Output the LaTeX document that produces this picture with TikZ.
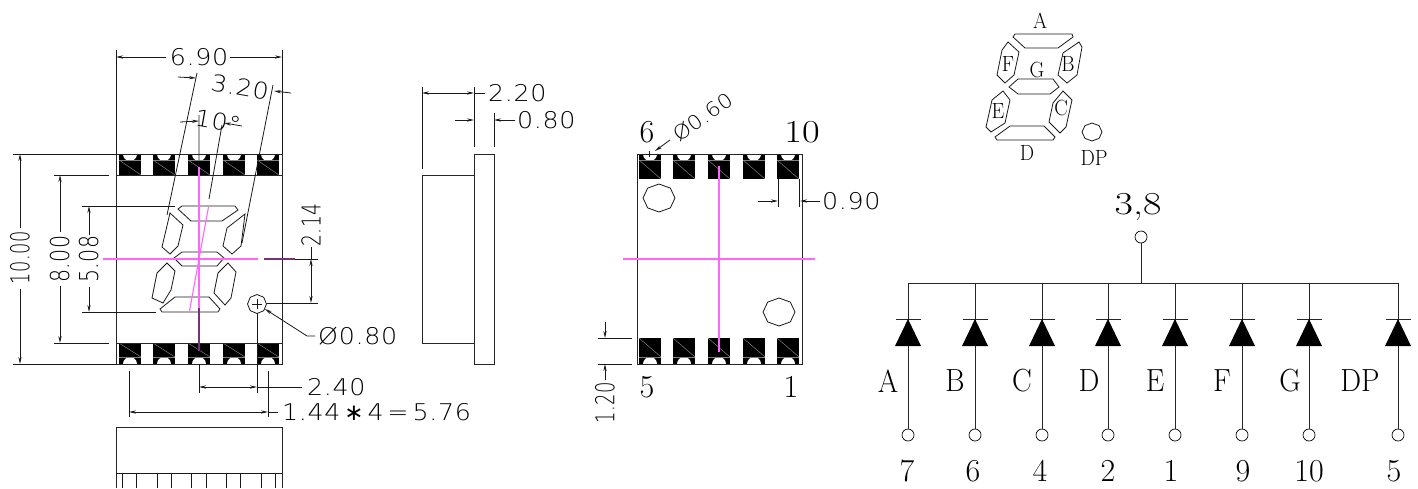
\documentclass[tikz,border=0pt]{standalone}
\usepackage{fontspec}
\usetikzlibrary{arrows.meta}
\newfontfamily\cadfont[FakeStretch=1.1, LetterSpace=3]{DejaVu Sans ExtraLight}
\newfontfamily\segfont[FakeStretch=0.92]{Latin Modern Roman}
\newfontfamily\pinfont{Latin Modern Roman}
\definecolor{centrepink}{RGB}{255,102,255}
\definecolor{centredim}{RGB}{120,50,120}
\tikzset{
  outline/.style={line width=0.9pt, black!85},
  dimline/.style={line width=0.8pt, black!90},
  dimtip/.style={dimline, -{Stealth[length=7pt,width=3.2pt]}},
  centre/.style={line width=1.1pt, centrepink},
  centredark/.style={line width=1.1pt, centredim},
  dimtext/.style={font=\fontsize{23}{23}\cadfont, inner sep=0},
  vdimtext/.style={font=\fontsize{26}{26}\cadfont, inner sep=0, rotate=90},
  pintext/.style={font=\fontsize{32}{32}\pinfont, inner sep=0},
  seglabel/.style={font=\fontsize{32}{32}\segfont, inner sep=0},
  smalllabel/.style={font=\fontsize{22}{22}\segfont, inner sep=0},
  pinhole/.style={draw, circle, line width=0.7pt, minimum size=12pt, inner sep=0, fill=white},
}
\newcommand{\padrow}[6]{
  \foreach \padx in {#6} {
    \fill[black] (\padx,#1) rectangle (\padx+22,#2);
    \fill[white] (\padx+11,#1) circle[radius=7];
    \draw[gray, line width=0.5pt] (\padx,#3) -- (\padx+22,#4);
    \draw[gray, line width=0.5pt] (\padx,#5) -- (\padx+22,#5);
  }
}
\newcommand{\octagon}[4]{
  \draw[dimline] plot[samples at={0,45,...,315}] ({#1+#3*cos(\x)},{#2+#4*sin(\x)}) -- cycle;
}
\newcommand{\narrow}[2]{\scalebox{#1}[1]{#2}}
\begin{document}
\begin{tikzpicture}[x=1pt, y=-1pt]
  \useasboundingbox (0,0) rectangle (1418,488);

  % front view
  \padrow{154}{175}{160}{175}{160}{119,153,188,223,257}
  \padrow{364}{343}{343}{357}{357}{119,153,188,223,257}
  \draw[outline] (116,154) rectangle (282,364);
  \draw[outline] (116,175) -- (282,175) (116,343) -- (282,343);
  \foreach \segpts in {
    {(178,209) -- (182,206) -- (235,206) -- (238,210) -- (222,221) -- (191,221)},
    {(170,213) -- (183,225) -- (178,246) -- (170,254) -- (162,247)},
    {(245,214) -- (241,246) -- (232,254) -- (223,246) -- (227,228)},
    {(174,258) -- (182,252) -- (217,252) -- (224,258) -- (217,266) -- (182,266)},
    {(167,263) -- (175,271) -- (171,290) -- (163,303) -- (152,298) -- (157,273)},
    {(228,263) -- (236,272) -- (231,298) -- (225,305) -- (214,293) -- (218,273)},
    {(175,297) -- (209,297) -- (220,309) -- (218,312) -- (162,312) -- (160,309)}
  } {
    \draw[dimline] \segpts -- cycle;
  }
  \octagon{257}{304}{9.5}{9.5}
  \draw[dimline] (252,304) -- (262,304) (257,299) -- (257,309);

  % centre lines
  \draw[centre] (199,167) -- (199,308);
  \draw[centredark] (199,308) -- (199,351);
  \draw[centre] (103,259) -- (258,259);
  \draw[centredark] (264,259) -- (295,259);
  \draw[dimline] (295,259) -- (318,259);
  \draw[centre] (208.5,207) -- (189.5,311);

  % 6.90 and the angled sizes
  \draw[dimline] (116,50) -- (116,154) (282,50) -- (282,154);
  \draw[dimtip] (166,57) -- (116,57);
  \draw[dimtip] (230,57) -- (282,57);
  \node[dimtext] (dimwidth) at (199,57) {6.90};
  \draw[dimline] (197,73) -- (167,215) (273,85) -- (242,243);
  \draw[dimtip] (178,77) -- (196,78);
  \draw[dimtip] (291,93) -- (274,91);
  \node[dimtext, rotate=-10] (dimsegw) at (240,87) {3.20};
  \draw[dimline] (199,115) -- (199,160) (222,125) -- (209,199);
  \draw[dimtip] (180,122) -- (199,121);
  \draw[dimtip] (242,126) -- (224,123);
  \node[dimtext, rotate=-10] (dimangle) at (218,121) {10°};

  % vertical sizes
  \draw[dimline] (13,154) -- (116,154) (13,364) -- (116,364);
  \draw[dimtip] (20,228) -- (20,154);
  \draw[dimtip] (20,289) -- (20,364);
  \node[vdimtext] (dimheight) at (20,258) {\narrow{.62}{10.00}};
  \draw[dimline] (54,175) -- (109,175) (54,343) -- (109,343);
  \draw[dimtip] (60,232) -- (60,175);
  \draw[dimtip] (60,286) -- (60,343);
  \node[vdimtext] (dimbody) at (60,259) {\narrow{.72}{8.00}};
  \draw[dimline] (82,206) -- (175,206) (82,312) -- (156,312);
  \draw[dimtip] (89,235) -- (89,206);
  \draw[dimtip] (89,287) -- (89,312);
  \node[vdimtext] (dimdigit) at (89,259) {\narrow{.72}{5.08}};
  \draw[dimline] (267,303) -- (318,303);
  \draw[dimline] (311,247) -- (311,259);
  \draw[dimtip] (311,280) -- (311,259);
  \draw[dimtip] (311,280) -- (311,303);
  \node[vdimtext] (dimdp) at (311,225) {\narrow{.66}{2.14}};

  % dot size and pin sizes
  \draw[dimtip] (315,336) -- (307,336) -- (265,309);
  \node[dimtext, anchor=west] (dimdot) at (318,336) {Ø0.80};
  \draw[dimline] (199,364) -- (199,393) (257,313) -- (257,393);
  \draw[dimtip] (228,387) -- (199,387);
  \draw[dimtip] (228,387) -- (257,387);
  \draw[dimline] (257,387) -- (302,387);
  \node[dimtext, anchor=west] (dimoffset) at (307,387) {2.40};
  \draw[dimline] (129,371) -- (129,417) (268,371) -- (268,417);
  \draw[dimtip] (200,412) -- (129,412);
  \draw[dimtip] (200,412) -- (268,412);
  \draw[dimline] (268,412) -- (278,412);
  \node[dimtext, anchor=west] (dimpitch) at (282,412) {1.44\,{\fontspec{DejaVu Sans}\char"2217}\,4\,=\,5.76};

  % lower view
  \draw[outline] (116,488) -- (116,427) -- (282,427) -- (282,488);
  \draw[dimline] (116,473) -- (282,473);
  \foreach \tickx in {122.7,136.7,157,171.7,191.7,206.7,226.7,240.7,261,275.7} {
    \draw[dimline] (\tickx,473) -- (\tickx,488);
  }

  % side view
  \draw[outline] (474,154) rectangle (494,364);
  \draw[outline] (474,175) -- (422,175) -- (422,343) -- (474,343);
  \draw[dimline] (422,87) -- (422,169) (474,87) -- (474,147) (494,113) -- (494,147);
  \draw[dimtip] (450,93) -- (422,93);
  \draw[dimtip] (450,93) -- (474,93);
  \draw[dimline] (474,93) -- (485,93);
  \node[dimtext, anchor=west] (dimdepth) at (488,93) {2.20};
  \draw[dimtip] (455,120) -- (474,120);
  \draw[dimtip] (515,120) -- (494,120);
  \node[dimtext, anchor=west] (dimplate) at (517,120) {0.80};

  % rear view
  \padrow{154}{179}{160}{179}{160}{639,673,708,743,777}
  \padrow{364}{338}{338}{357}{357}{639,673,708,743,777}
  \draw[outline] (637,154) rectangle (802,364);
  \draw[centre] (719,166) -- (719,352);
  \draw[centre] (623,259) -- (815,259);
  \octagon{659}{198}{16}{14}
  \octagon{779}{312}{16}{14}
  \node[pintext] (rearsix) at (647,132) {6};
  \node[pintext] (rearten) at (802,132) {\narrow{1.2}{10}};
  \node[pintext] (rearfive) at (647,387) {5};
  \node[pintext] (rearone) at (791,387) {1};
  \draw[dimline] (646,154) -- (652,154) (649,151) -- (649,157);
  \draw[dimtip] (670,140) -- (655,151);
  \node[dimtext, rotate=35, font=\fontsize{20}{20}\cadfont] (dimpinhole) at (703,117) {Ø0.60};
  \draw[dimline] (778,179) -- (778,207) (799,179) -- (799,207);
  \draw[dimtip] (758,201) -- (778,201);
  \draw[dimtip] (820,201) -- (800,201);
  \node[dimtext, anchor=west] (dimpad) at (822,201) {0.90};
  \draw[dimline] (598,338) -- (632,338) (598,364) -- (632,364);
  \draw[dimtip] (605,322) -- (605,338);
  \draw[dimtip] (605,380) -- (605,364);
  \node[vdimtext] (dimpadlen) at (605,403) {\narrow{.63}{1.20}};

  % segment key
  \foreach \segpts in {
    {(1013,37) -- (1015,34) -- (1072,34) -- (1073,37) -- (1058,48) -- (1025,48)},
    {(1008,42) -- (1019,52) -- (1014,75) -- (1005,83) -- (997,75) -- (1002,50)},
    {(1079,42) -- (1082,47) -- (1077,75) -- (1067,83) -- (1058,75) -- (1063,53)},
    {(1009,87) -- (1018,79) -- (1053,79) -- (1059,87) -- (1050,94) -- (1018,94)},
    {(1003,91) -- (1010,100) -- (1005,123) -- (991,132) -- (986,127) -- (992,100)},
    {(1063,91) -- (1072,100) -- (1066,127) -- (1060,133) -- (1049,122) -- (1053,103)},
    {(1010,126) -- (1044,126) -- (1055,137) -- (1053,140) -- (997,140) -- (995,137)}
  } {
    \draw[dimline] \segpts -- cycle;
  }
  \octagon{1092}{132}{10}{9}
  \foreach \keyname/\keylabel/\keypos in {keya/A/{1040,21}, keyf/F/{1008,64}, keyb/B/{1068,64}, keyg/G/{1037,70}, keye/E/{998,111}, keyc/C/{1061,108}, keyd/D/{1027,153}, keydp/DP/{1094,158}} {
    \node[smalllabel] (\keyname) at (\keypos) {\keylabel};
  }

  % circuit
  \node[pinhole] (pincommon) at (1141,237) {};
  \node[pintext] (commonlabel) at (1138,207) {\narrow{1.25}{3,8}};
  \coordinate (busjoin) at (1141,283);
  \draw[outline] (pincommon) -- (busjoin);
  \coordinate (busleft) at (908,283);
  \coordinate (busright) at (1398,283);
  \draw[outline] (busleft) -- (busright);
  \foreach \colx/\seglabel/\labelx/\pinlabel/\pinx in {908/A/888/7/907, 975/B/955/6/973, 1042/C/1022/4/1040, 1108/D/1089/2/1108, 1175/E/1155/1/1171, 1242/F/1222/9/1243, 1309/G/1290/10/1309, 1398/DP/1360/5/1394} {
    \coordinate (bus\seglabel) at (\colx,283);
    \coordinate (bar\seglabel) at (\colx,319);
    \node[pinhole] (pin\seglabel) at (\colx,435) {};
    \draw[outline] (bus\seglabel) -- (bar\seglabel);
    \draw[outline] (pin\seglabel) -- (bar\seglabel);
    \draw[outline] (\colx-12.5,319) -- (\colx+12.5,319);
    \fill[black] (bar\seglabel) -- (\colx+13,346) -- (\colx-13,346) -- cycle;
    \node[seglabel] (name\seglabel) at (\labelx,381) {\seglabel};
    \node[pintext] (num\seglabel) at (\pinx,471) {\pinlabel};
  }
\end{tikzpicture}
\end{document}
